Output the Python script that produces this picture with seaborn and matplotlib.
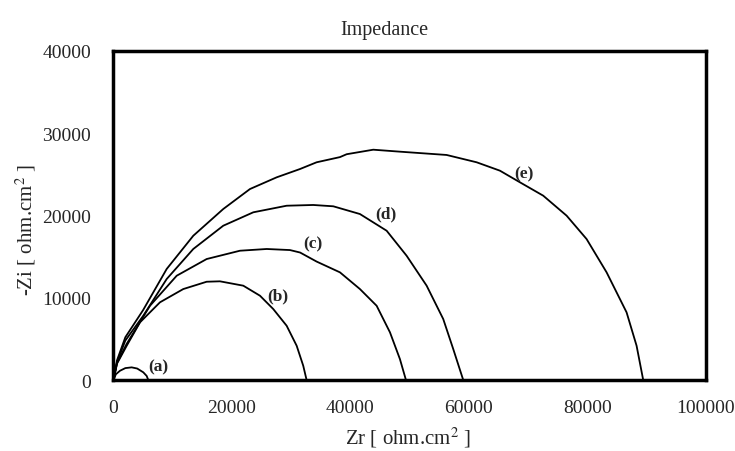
import pandas as pd
import seaborn as sns
import matplotlib.pyplot as plt

# Nyquist curves (Zr, -Zi in ohm.cm2)
zr_a = [0, 400, 1100, 2000, 3070, 4000, 5030, 5600, 5880]
zi_a = [0, 700, 1130, 1450, 1540, 1400, 940, 500, 0]

zr_b = [0, 600, 2230, 4470, 7850, 11780, 15730, 17970, 21910, 24730, 26970,
        29230, 30920, 32030, 32600]
zi_b = [0, 2000, 4170, 7010, 9450, 11060, 11950, 12000, 11470, 10250, 8630,
        6600, 4170, 1740, 0]

zr_c = [0, 600, 2230, 6160, 10670, 15730, 21350, 25860, 29790, 31500, 34290,
        38230, 41600, 44420, 46670, 48350, 49370]
zi_c = [0, 2100, 4400, 9030, 12680, 14710, 15720, 15930, 15800, 15500, 14400,
        13090, 11060, 9030, 5800, 2550, 0]

zr_d = [0, 600, 2000, 5030, 8980, 13470, 18530, 23600, 29230, 33720, 37100,
        41600, 46110, 49480, 52860, 55660, 57350, 59040]
zi_d = [0, 2200, 4800, 7820, 12280, 15930, 18760, 20390, 21190, 21280, 21120,
        20180, 18150, 15110, 11470, 7420, 3770, 0]

zr_e = [0, 600, 2000, 5000, 8980, 13470, 18530, 23040, 27540, 31480, 34290,
        38230, 39360, 43850, 48350, 56230, 61300, 65230, 68600, 72540, 76490,
        79860, 83240, 86610, 88300, 89420]
zi_e = [0, 2400, 5200, 8500, 13500, 17540, 20790, 23220, 24640, 25650, 26470,
        27100, 27450, 28000, 27760, 27360, 26470, 25450, 24040, 22410, 19980,
        17140, 13090, 8230, 4170, 0]

curve_names = ["(a)", "(b)", "(c)", "(d)", "(e)"]
label_x = [7600, 27700, 33700, 45900, 69300]
label_y = [1700, 10300, 16600, 20200, 25100]

x_ticks = [0, 20000, 40000, 60000, 80000, 100000]
y_ticks = [0, 10000, 20000, 30000, 40000]

frames = []
for name, zr, zi in zip(curve_names, [zr_a, zr_b, zr_c, zr_d, zr_e],
                        [zi_a, zi_b, zi_c, zi_d, zi_e]):
    frames.append(pd.DataFrame({"Zr": zr, "Zi": zi, "curve": name}))
df = pd.concat(frames, ignore_index=True)

sns.set_style("white")
plt.rcParams["font.family"] = ["Liberation Serif", "DejaVu Serif"]
plt.rcParams["mathtext.fontset"] = "stix"

fig = plt.figure(figsize=(7.35, 4.52), dpi=100)
ax = fig.add_axes([0.1544, 0.157, 0.806, 0.728])

sns.lineplot(data=df, x="Zr", y="Zi", units="curve", estimator=None,
             sort=False, color="black", linewidth=1.3, ax=ax)

for name, lx, ly in zip(curve_names, label_x, label_y):
    ax.text(lx, ly, name, fontsize=12.5, fontweight="bold", ha="center",
            va="center")

ax.set_xlim(0, 100000)
ax.set_ylim(0, 40000)
ax.set_xticks(x_ticks)
ax.set_yticks(y_ticks)
ax.tick_params(length=0, labelsize=14)
ax.tick_params(axis="x", pad=14)
ax.tick_params(axis="y", pad=16)
for s in ax.spines.values():
    s.set_color("black")
    s.set_linewidth(2.5)

ax.set_xlabel("Zr [ ohm.cm$^2$ ]", fontsize=15)
ax.set_ylabel("-Zi [ ohm.cm$^2$ ]", fontsize=15)
ax.xaxis.set_label_coords(0.497, -0.135)
ax.yaxis.set_label_coords(-0.128, 0.46)
ax.set_title("Impedance", fontsize=14.5, x=0.458, y=1.025)

plt.savefig("out.png", dpi=100)
